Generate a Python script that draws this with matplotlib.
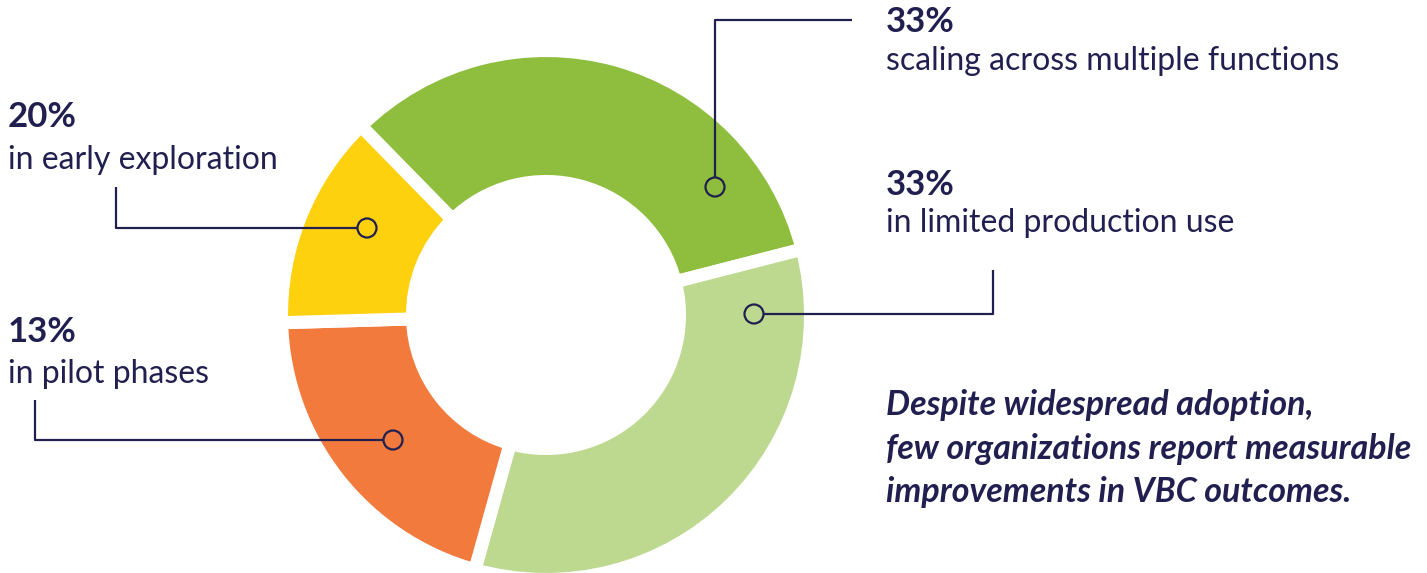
import matplotlib.pyplot as plt
from matplotlib.patches import Circle

# wedge shares as drawn (clockwise from the top-left gap)
shares = [33, 33, 20, 13]
colors = ['#8fbe3f', '#bdd88f', '#f27a3c', '#fed10f']

pcts = ['33%', '33%', '20%', '13%']
labels = ['scaling across multiple functions', 'in limited production use',
          'in early exploration', 'in pilot phases']
note = 'Despite widespread adoption,\nfew organizations report measurable\nimprovements in VBC outcomes.'

W, H = 1427, 573
navy = '#211f4f'
plt.rcParams['font.family'] = ['Lato', 'DejaVu Sans']


def Y(y):
    return H - y


fig = plt.figure(figsize=(W / 100, H / 100), dpi=100)
ax = fig.add_axes([0, 0, 1, 1])
ax.pie(shares, colors=colors, startangle=134.4, counterclock=False,
       center=(546, Y(315)), radius=264.5,
       wedgeprops=dict(width=131, edgecolor='white', linewidth=9.4))
ax.set_xlim(0, W)
ax.set_ylim(0, H)
ax.set_aspect('equal')
ax.axis('off')

# connector paths: circle position, then elbow points (pixel layout)
paths = [
    [(715, 187), (715, 20), (852, 20)],
    [(754, 314), (993, 314), (993, 270)],
    [(367, 228), (116, 228), (116, 187)],
    [(393, 440), (35, 440), (35, 400)],
]
rc = 9.5
for p in paths:
    (x0, y0), (x1, y1) = p[0], p[1]
    if x1 == x0:
        s = (x0, y0 - rc if y1 < y0 else y0 + rc)
    else:
        s = (x0 + rc if x1 > x0 else x0 - rc, y0)
    pts = [s] + p[1:]
    ax.plot([q[0] for q in pts], [Y(q[1]) for q in pts], color=navy, lw=1.6,
            solid_capstyle='butt')
    ax.add_patch(Circle((x0, Y(y0)), rc, fill=False, edgecolor=navy, lw=1.6))

# labels: (x, baseline of percent, baseline of text)
pos = [(886, 32, 70), (886, 195, 232), (8, 127, 169), (8, 342, 383)]
for (x, yb1, yb2), pc, lab in zip(pos, pcts, labels):
    ax.text(x, Y(yb1), pc, fontsize=25, fontweight='bold', color=navy,
            va='baseline', ha='left')
    ax.text(x, Y(yb2), lab, fontsize=23, color=navy, va='baseline', ha='left')

# baseline of the last line
ax.text(886, Y(502), note, fontsize=24.5, fontweight='bold', fontstyle='italic',
        color=navy, va='baseline', ha='left', linespacing=1.44)

fig.savefig('out.png', dpi=100)
